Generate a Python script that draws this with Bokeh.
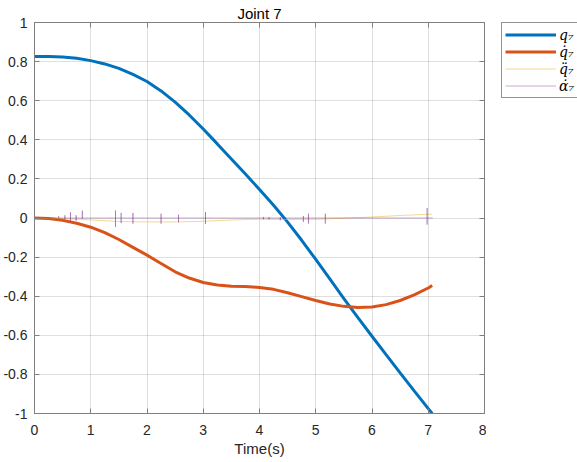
from bokeh.plotting import figure
from bokeh.layouts import row
from bokeh.models import (Range1d, LinearAxis, FixedTicker, CustomJSTickFormatter,
                          Legend, LegendItem)
from bokeh.embed import file_html
from bokeh.resources import INLINE

# ---------------- data ----------------
title_text = "Joint 7"
x_label = "Time(s)"
x_ticks = [0, 1, 2, 3, 4, 5, 6, 7, 8]
y_ticks = [-1, -0.8, -0.6, -0.4, -0.2, 0, 0.2, 0.4, 0.6, 0.8, 1]
series_names = ["q₇", "q̇₇", "q̈₇", "α̇₇"]
series_colors = ["#0072BD", "#D95319", "#EDB120", "#7E2F8E"]

t = [0, 0.25, 0.5, 0.75, 1.0, 1.25, 1.5, 1.75, 2.0, 2.25, 2.5, 2.75, 3.0, 3.25,
     3.5, 3.75, 4.0, 4.25, 4.5, 4.75, 5.0, 5.25, 5.5, 5.75, 6.0, 6.25, 6.5,
     6.75, 7.0, 7.07]
q7 = [0.826, 0.826, 0.824, 0.817, 0.805, 0.788, 0.765, 0.735, 0.698, 0.650,
      0.593, 0.527, 0.455, 0.379, 0.302, 0.225, 0.146, 0.065, -0.021, -0.114,
      -0.212, -0.312, -0.412, -0.510, -0.605, -0.699, -0.792, -0.884, -0.975,
      -1.000]
dq7 = [0.0, -0.003, -0.012, -0.027, -0.047, -0.075, -0.110, -0.150, -0.190,
       -0.233, -0.275, -0.307, -0.330, -0.343, -0.349, -0.351, -0.355, -0.365,
       -0.382, -0.402, -0.422, -0.440, -0.452, -0.458, -0.455, -0.443, -0.422,
       -0.393, -0.358, -0.345]

t_ddq = [0, 0.5, 1.0, 1.5, 2.0, 2.5, 3.0, 3.5, 4.0, 4.5, 5.0, 5.5, 6.0, 6.5,
         7.0, 7.07]
ddq7 = [0.0, -0.003, -0.010, -0.018, -0.020, -0.020, -0.017, -0.010, -0.006,
        -0.008, -0.007, -0.001, 0.005, 0.013, 0.019, 0.020]

t_end = 7.08
spike_t = [0.43, 0.54, 0.64, 0.74, 0.85, 1.44, 1.54, 1.75, 2.25, 2.56, 3.04,
           4.07, 4.17, 4.37, 4.78, 4.87, 5.17, 6.98]
spike_up = [0.009, 0.014, 0.029, 0.014, 0.038, 0.039, 0.026, 0.026, 0.022,
            0.017, 0.031, 0.005, 0.005, 0.005, 0.010, 0.022, 0.022, 0.051]
spike_down = [0.0, 0.009, 0.017, 0.014, 0.003, 0.046, 0.026, 0.029, 0.029,
              0.022, 0.031, 0.007, 0.007, 0.012, 0.020, 0.029, 0.029, 0.034]

# build alpha-dot series from the spike lists
a_t, a_v = [0.0], [0.0]
for st, su, sd in zip(spike_t, spike_up, spike_down):
    a_t += [st, st, st, st]
    a_v += [0.0, su, -sd, 0.0]
a_t.append(t_end)
a_v.append(0.0)

# ---------------- main figure ----------------
FONT = "Liberation Sans"
AX = "#808080"
TXT = "#262626"
widths = [3, 3, 1, 1]
alphas = [1.0, 1.0, 0.5, 0.4]
xs = [t, t, t_ddq, a_t]
ys = [q7, dq7, ddq7, a_v]

p = figure(width=486, height=462, x_range=Range1d(0, 8), y_range=Range1d(-1, 1),
           output_backend="svg", toolbar_location=None, title=title_text,
           min_border_left=34, min_border_right=2, min_border_top=22,
           min_border_bottom=49)
p.title.align = "center"
p.title.text_font = FONT
p.title.text_font_size = "15px"
p.title.text_font_style = "normal"
p.title.text_color = "#000000"
p.title.standoff = 2
p.title.offset = 0
p.outline_line_color = None
p.background_fill_color = "white"
p.border_fill_color = "white"

def style_axis(ax, ticks):
    ax.ticker = FixedTicker(ticks=ticks)
    ax.major_tick_in = 5
    ax.major_tick_out = 0
    ax.minor_tick_line_color = None
    ax.axis_line_color = AX
    ax.major_tick_line_color = AX
    ax.major_label_text_color = TXT
    ax.major_label_text_font = FONT
    ax.major_label_text_font_size = "14px"

xa = p.xaxis[0]
style_axis(xa, x_ticks)
xa.major_label_standoff = 11
xa.axis_label = x_label
xa.axis_label_text_font = FONT
xa.axis_label_text_font_size = "15px"
xa.axis_label_text_font_style = "normal"
xa.axis_label_text_color = TXT
xa.axis_label_standoff = 2

ya = p.yaxis[0]
style_axis(ya, y_ticks)
ya.major_label_standoff = 7
ya.formatter = CustomJSTickFormatter(code="return String(Math.round(tick*10)/10);")

blank = CustomJSTickFormatter(code="return '';")
top_ax = LinearAxis(formatter=blank)
style_axis(top_ax, x_ticks)
top_ax.major_label_standoff = 0
p.add_layout(top_ax, "above")

right_ax = LinearAxis(formatter=blank)
style_axis(right_ax, y_ticks)
right_ax.major_label_standoff = 0
p.add_layout(right_ax, "right")

p.xgrid.ticker = FixedTicker(ticks=x_ticks)
p.ygrid.ticker = FixedTicker(ticks=y_ticks)
for g in (p.xgrid[0], p.ygrid[0]):
    g.grid_line_color = TXT
    g.grid_line_alpha = 0.15
    g.grid_line_width = 1

for x, y, c, w, a in zip(xs, ys, series_colors, widths, alphas):
    p.line(x, y, line_color=c, line_width=w, line_alpha=a)

# ---------------- legend panel ----------------
# same series drawn into a range where they are out of view; only the legend shows
pl = figure(width=91, height=462, x_range=Range1d(-20, -19), y_range=Range1d(-20, -19),
            output_backend="svg", toolbar_location=None, title=None,
            x_axis_type=None, y_axis_type=None,
            min_border_left=15, min_border_right=0,
            min_border_top=22, min_border_bottom=0)
pl.grid.visible = False
pl.outline_line_color = None
pl.border_fill_color = "white"
pl.background_fill_color = "white"
items = []
for n, x, y, c, w, a in zip(series_names, xs, ys, series_colors, widths, alphas):
    r = pl.line(x, y, line_color=c, line_width=w, line_alpha=a)
    items.append(LegendItem(label=n, renderers=[r]))

legend = Legend(
    items=items, location="top_left", orientation="vertical",
    border_line_color=TXT, border_line_width=1,
    background_fill_color="white", background_fill_alpha=1.0,
    padding=3, spacing=0, margin=0,
    label_height=17, glyph_height=17, glyph_width=51,
    label_standoff=3, label_width=12,
    label_text_font="DejaVu Serif", label_text_font_style="italic",
    label_text_font_size="14px", label_text_color="#000000",
)
pl.add_layout(legend)

layout = row(p, pl)
open("out.html", "w").write(file_html(layout, INLINE))
